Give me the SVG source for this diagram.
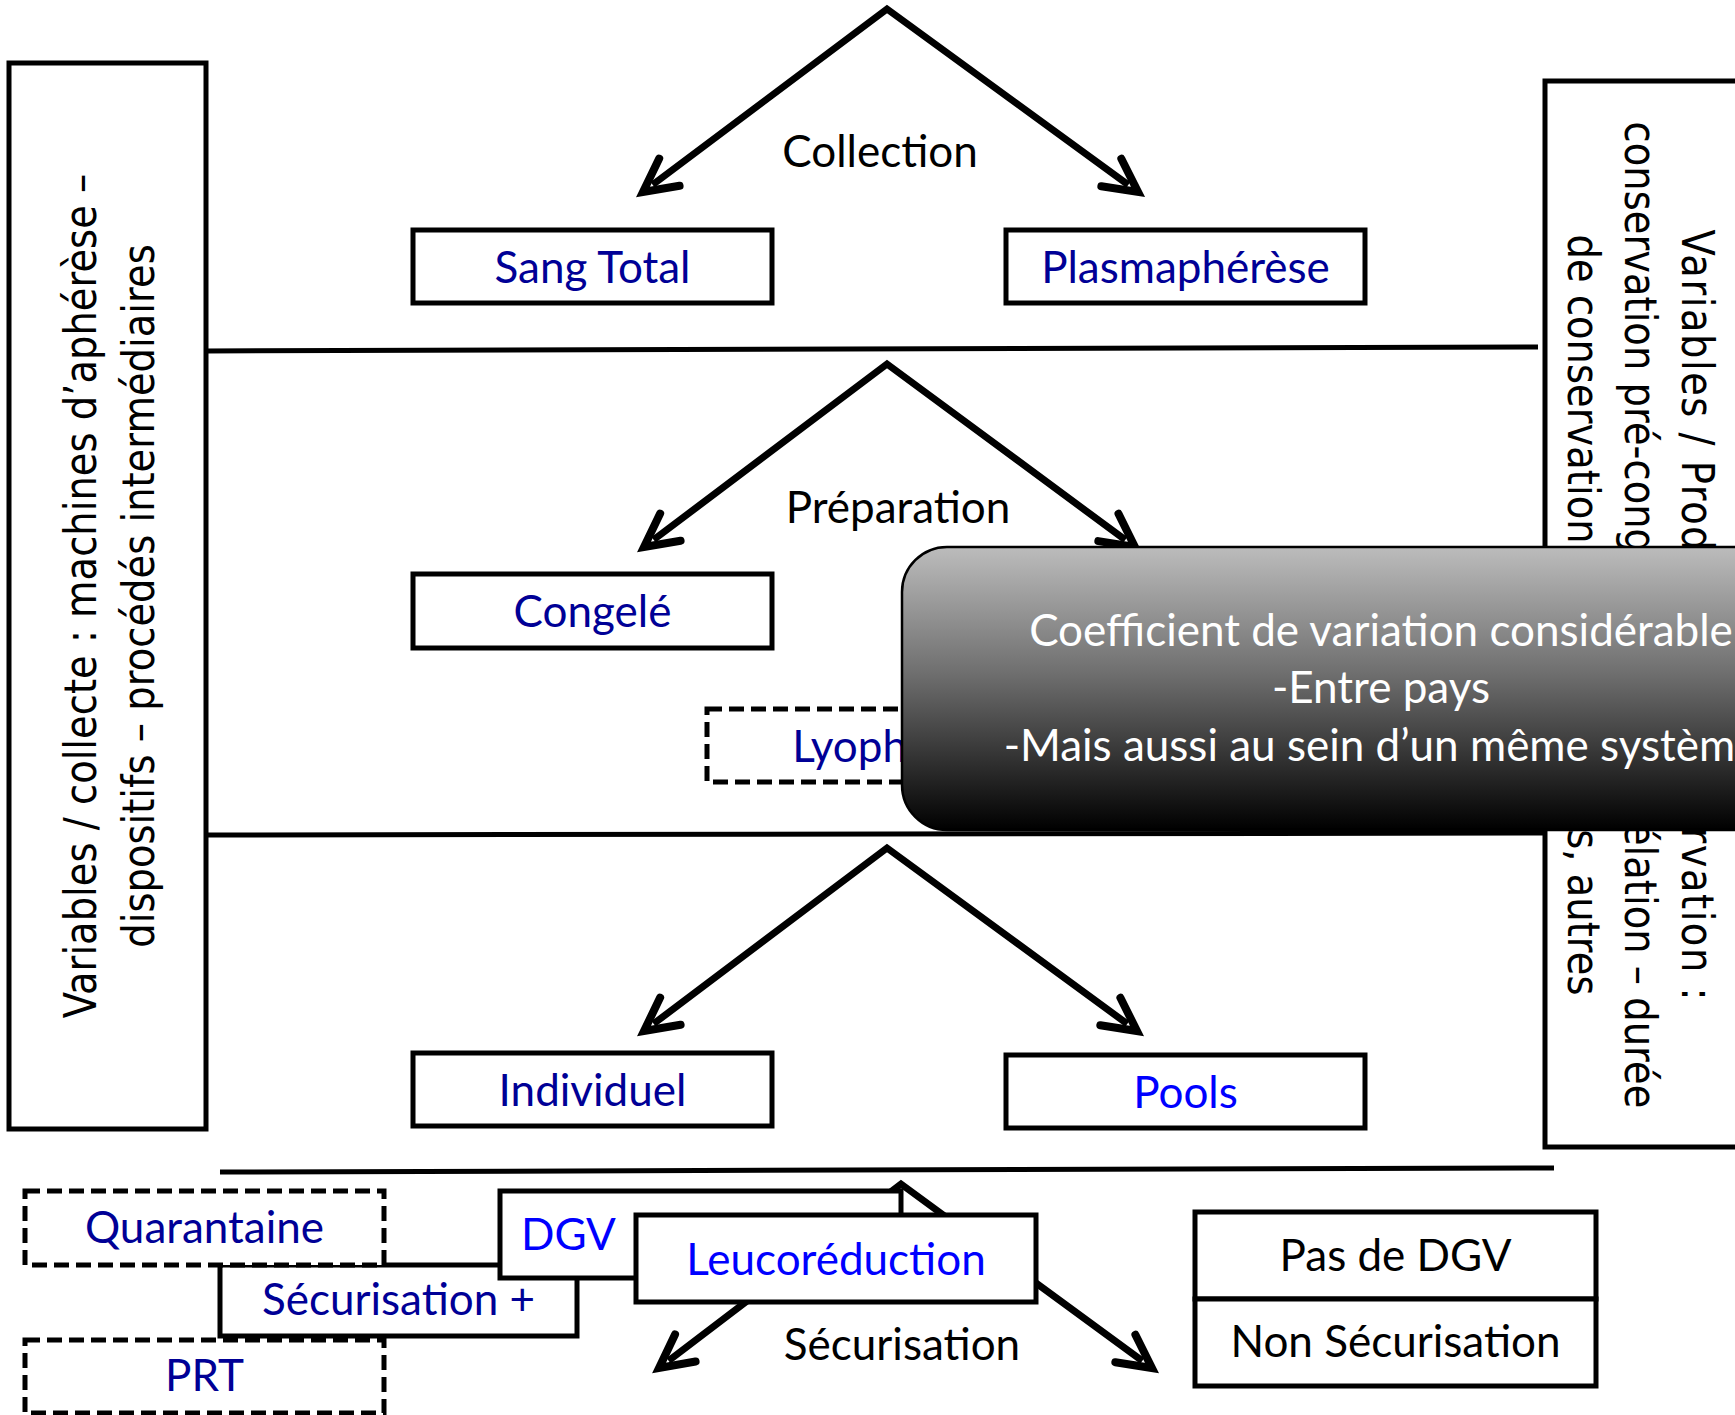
<svg xmlns="http://www.w3.org/2000/svg" width="1735" height="1415" viewBox="0 0 1735 1415">
  <style>
    .box { fill: #ffffff; stroke: #000000; stroke-width: 5; }
    .dash { fill: #ffffff; stroke: #000000; stroke-width: 5; stroke-dasharray: 15 7; }
    .sep { stroke: #000000; stroke-width: 5; fill: none; }
    .arrow { stroke: #000000; stroke-width: 7; fill: none; stroke-linejoin: miter; marker-start: url(#head); marker-end: url(#head); }
    .lbl { font-family: Lato, "Liberation Sans", sans-serif; font-size: 44px; text-anchor: middle; }
    .navy { fill: #000096; }
    .blue { fill: #0000ff; }
    .blk { fill: #000000; }
    .side { font-family: "DejaVu Sans", Verdana, sans-serif; font-size: 38.5px; fill: #000000; text-anchor: middle; }
    .note { font-family: Lato, "Liberation Sans", sans-serif; font-size: 44px; fill: #ffffff; text-anchor: middle; }
  </style>
  <defs>
    <marker id="head" markerUnits="userSpaceOnUse" viewBox="0 0 46 46" markerWidth="46" markerHeight="46" refX="27" refY="23" orient="auto-start-reverse" overflow="visible">
      <path d="M6,6 L39,23 L6,40" fill="none" stroke="#000000" stroke-width="8" stroke-linecap="round" stroke-linejoin="miter"/>
    </marker>
    <linearGradient id="shade" x1="0" y1="0" x2="0" y2="1">
      <stop offset="0" stop-color="#bcbcbc"/>
      <stop offset="0.45" stop-color="#6e6e6e"/>
      <stop offset="1" stop-color="#000000"/>
    </linearGradient>
  </defs>

  <!-- side panels -->
  <g id="collecte-variables">
    <rect class="box" x="9" y="63" width="197" height="1066"/>
    <g transform="translate(0,596) rotate(-90) scale(1,1.15)">
      <text class="side" x="0" y="83.5">Variables / collecte : machines d’aphérèse –</text>
      <text class="side" x="0" y="134">dispositifs – procédés intermédiaires</text>
    </g>
  </g>
  <g id="conservation-variables">
    <rect class="box" x="1545" y="81" width="260" height="1066"/>
    <g transform="translate(1682,615) rotate(90) scale(1,1.15)">
      <text class="side" x="0" y="0" textLength="771" lengthAdjust="spacing">Variables / Produits de conservation :</text>
      <text class="side" x="0" y="49.6">conservation pré-congélation – congélation – durée</text>
      <text class="side" x="0" y="99.1">de conservation – températures, autres</text>
    </g>
  </g>

  <!-- section separators -->
  <g id="separators">
    <line class="sep" x1="206" y1="351" x2="1538" y2="347"/>
    <line class="sep" x1="206" y1="835" x2="1545" y2="833"/>
    <line class="sep" x1="220" y1="1172" x2="1554" y2="1168"/>
  </g>

  <!-- branching arrows -->
  <g id="connectors">
    <path class="arrow" d="M652.6,184.8 L887,9 L1128.3,184.9"/>
    <path class="arrow" d="M653.6,539.8 L887,364 L1125.3,539.9"/>
    <path class="arrow" d="M653.6,1023.8 L887,848 L1127.3,1023.9"/>
    <path class="arrow" d="M668.6,1360.7 L901,1184 L1142.3,1360.9"/>
  </g>

  <!-- step labels -->
  <g id="step-collection"><text class="lbl blk" x="880" y="167">Collection</text></g>
  <g id="step-preparation"><text class="lbl blk" x="898" y="523">Préparation</text></g>
  <g id="step-securisation"><text class="lbl blk" x="902" y="1360">Sécurisation</text></g>

  <!-- collection -->
  <g id="sang-total">
    <rect class="box" x="413" y="230" width="359" height="73"/>
    <text class="lbl navy" x="592.5" y="283">Sang Total</text>
  </g>
  <g id="plasmapherese">
    <rect class="box" x="1006" y="230" width="359" height="73"/>
    <text class="lbl navy" x="1185.5" y="283">Plasmaphérèse</text>
  </g>

  <!-- preparation -->
  <g id="congele">
    <rect class="box" x="413" y="574" width="359" height="74"/>
    <text class="lbl navy" x="592.5" y="627">Congelé</text>
  </g>
  <g id="lyophilise">
    <rect class="dash" x="707" y="709" width="359" height="73"/>
    <text class="lbl navy" x="886.5" y="762">Lyophilisé</text>
  </g>

  <!-- pooling -->
  <g id="individuel">
    <rect class="box" x="413" y="1053" width="359" height="73"/>
    <text class="lbl navy" x="592.5" y="1106">Individuel</text>
  </g>
  <g id="pools">
    <rect class="box" x="1006" y="1055" width="359" height="73"/>
    <text class="lbl blue" x="1185.5" y="1108">Pools</text>
  </g>

  <!-- securisation -->
  <g id="securisation-plus">
    <rect class="box" x="220" y="1265" width="357" height="71"/>
    <text class="lbl navy" x="398.5" y="1315">Sécurisation +</text>
  </g>
  <g id="quarantaine">
    <rect class="dash" x="25" y="1191" width="359" height="74"/>
    <text class="lbl navy" x="204.5" y="1243">Quarantaine</text>
  </g>
  <g id="prt">
    <rect class="dash" x="25" y="1340" width="359" height="73"/>
    <text class="lbl navy" x="204.5" y="1391">PRT</text>
  </g>
  <g id="dgv">
    <rect class="box" x="500" y="1191" width="401" height="87"/>
    <text class="lbl blue" x="521" y="1250" style="text-anchor:start">DGV</text>
  </g>
  <g id="leucoreduction">
    <rect class="box" x="636" y="1215" width="400" height="87"/>
    <text class="lbl blue" x="836" y="1275">Leucoréduction</text>
  </g>
  <g id="pas-de-dgv">
    <rect class="box" x="1195" y="1212" width="401" height="87"/>
    <text class="lbl blk" x="1395.5" y="1271">Pas de DGV</text>
  </g>
  <g id="non-securisation">
    <rect class="box" x="1195" y="1299" width="401" height="87"/>
    <text class="lbl blk" x="1395.5" y="1357">Non Sécurisation</text>
  </g>

  <!-- callout -->
  <g id="variation-callout">
    <rect x="902" y="547" width="958" height="283" rx="45" ry="45" fill="url(#shade)" stroke="#000000" stroke-width="2.5"/>
    <text class="note" x="1381" y="646">Coefficient de variation considérable</text>
    <text class="note" x="1381" y="703">-Entre pays</text>
    <text class="note" x="1381" y="761">-Mais aussi au sein d’un même système</text>
  </g>
</svg>
